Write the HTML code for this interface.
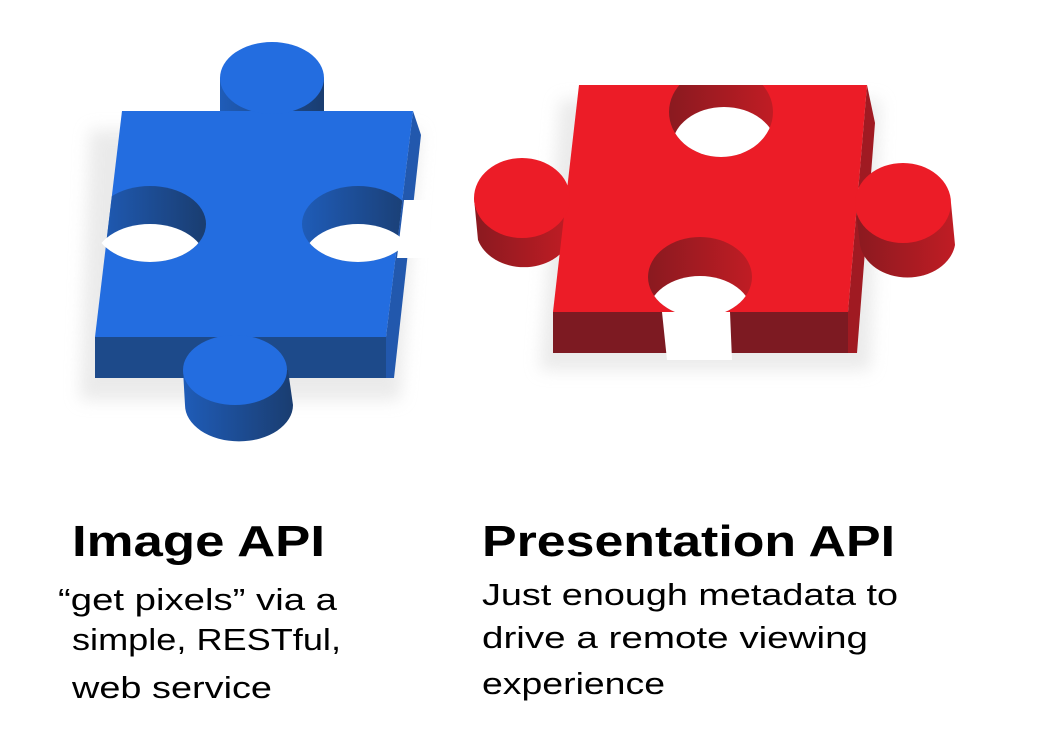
<!DOCTYPE html>
<html><head><meta charset="utf-8"><style>html,body{margin:0;padding:0;background:#fff}svg{display:block}</style></head>
<body>
<svg width="1044" height="750" viewBox="0 0 1044 750" xmlns="http://www.w3.org/2000/svg">
<defs>
<linearGradient id="bs" x1="0" x2="1"><stop offset="0" stop-color="#1f5cb8"/><stop offset="1" stop-color="#1a3d70"/></linearGradient>
<linearGradient id="rs" x1="0" x2="1"><stop offset="0" stop-color="#8a1a20"/><stop offset="1" stop-color="#c01c24"/></linearGradient>
<filter id="sh" x="-20%" y="-20%" width="140%" height="140%"><feGaussianBlur stdDeviation="8"/></filter>
<clipPath id="bface"><polygon points="122,111 413,111 386,337 95,337"/></clipPath>
<clipPath id="rface"><polygon points="579,85 867,85 848,312 553,312"/></clipPath>
<clipPath id="lh"><ellipse cx="150" cy="224" rx="56" ry="38"/></clipPath>
<clipPath id="rh"><ellipse cx="358" cy="224" rx="56" ry="38"/></clipPath>
<clipPath id="tn"><ellipse cx="721" cy="112" rx="52" ry="45"/></clipPath>
<clipPath id="bn"><ellipse cx="700" cy="277" rx="52" ry="40"/></clipPath>
</defs>
<!-- shadows -->
<polygon points="90,130 420,130 400,400 80,400" fill="#ddd" filter="url(#sh)" opacity="0.6"/>
<polygon points="560,100 880,100 870,370 540,370" fill="#ddd" filter="url(#sh)" opacity="0.6"/>

<!-- BLUE PIECE -->
<polygon points="95,337 386,337 386,378 95,378" fill="#1d4a8a"/>
<polygon points="413,111 421,135 394,378 386,378 386,337" fill="#2258ad"/>
<rect x="220" y="78" width="104" height="34" fill="url(#bs)"/>
<polygon points="122,111 413,111 386,337 95,337" fill="#236de0"/>
<ellipse cx="272" cy="78" rx="52" ry="36" fill="#236de0"/>
<!-- left hole -->
<g clip-path="url(#bface)"><ellipse cx="150" cy="224" rx="56" ry="38" fill="url(#bs)"/></g>
<ellipse cx="150" cy="262" rx="56" ry="38" fill="#fff" clip-path="url(#lh)"/>
<!-- right hole -->
<g clip-path="url(#bface)"><ellipse cx="358" cy="224" rx="56" ry="38" fill="url(#bs)"/></g>
<ellipse cx="358" cy="262" rx="56" ry="38" fill="#fff" clip-path="url(#rh)"/>
<polygon points="404,200 430,200 430,258 397,258" fill="#fff"/>
<!-- bottom knob -->
<path d="M183,370 L185,405 A52,35 0 0 0 293,405 L288,370 Z" fill="url(#bs)"/>
<ellipse cx="235" cy="370" rx="52" ry="35" fill="#236de0"/>

<!-- RED PIECE -->
<polygon points="553,312 848,312 848,353 553,353" fill="#7d1a22"/>
<polygon points="848,312 867,85 875,123 857,353 848,353" fill="#a01a22"/>
<path d="M474,198 L478,240 A48,38 0 0 0 570,240 L570,198 Z" fill="url(#rs)"/>
<path d="M855,203 L860,245 A48,38 0 0 0 955,245 L951,203 Z" fill="url(#rs)"/>
<polygon points="579,85 867,85 848,312 553,312" fill="#ec1c27"/>
<ellipse cx="522" cy="198" rx="48" ry="40" fill="#ec1c27"/>
<ellipse cx="903" cy="203" rx="48" ry="40" fill="#ec1c27"/>
<!-- top notch -->
<g clip-path="url(#rface)"><ellipse cx="721" cy="112" rx="52" ry="45" fill="url(#rs)"/></g>
<ellipse cx="724" cy="147" rx="52" ry="40" fill="#fff" clip-path="url(#tn)"/>
<!-- bottom notch -->
<g clip-path="url(#rface)"><ellipse cx="700" cy="277" rx="52" ry="40" fill="url(#rs)"/></g>
<ellipse cx="700" cy="314" rx="52" ry="38" fill="#fff" clip-path="url(#bn)"/>
<polygon points="662,312 730,312 732,360 667,360" fill="#fff"/>

<!-- TEXT -->
<g font-family="'Liberation Sans', sans-serif" fill="#000">
<text x="72" y="556" font-size="44" font-weight="bold" textLength="253" lengthAdjust="spacingAndGlyphs">Image API</text>
<text x="482" y="556" font-size="44" font-weight="bold" textLength="413" lengthAdjust="spacingAndGlyphs">Presentation API</text>
<text x="58" y="610" font-size="31" textLength="279" lengthAdjust="spacingAndGlyphs">“get pixels” via a</text>
<text x="72" y="650" font-size="31" textLength="269" lengthAdjust="spacingAndGlyphs">simple, RESTful,</text>
<text x="72" y="698" font-size="31" textLength="200" lengthAdjust="spacingAndGlyphs">web service</text>
<text x="482" y="605" font-size="31" textLength="416" lengthAdjust="spacingAndGlyphs">Just enough metadata to</text>
<text x="482" y="648" font-size="31" textLength="386" lengthAdjust="spacingAndGlyphs">drive a remote viewing</text>
<text x="482" y="694" font-size="31" textLength="183" lengthAdjust="spacingAndGlyphs">experience</text>
</g>
</svg>
</body></html>
